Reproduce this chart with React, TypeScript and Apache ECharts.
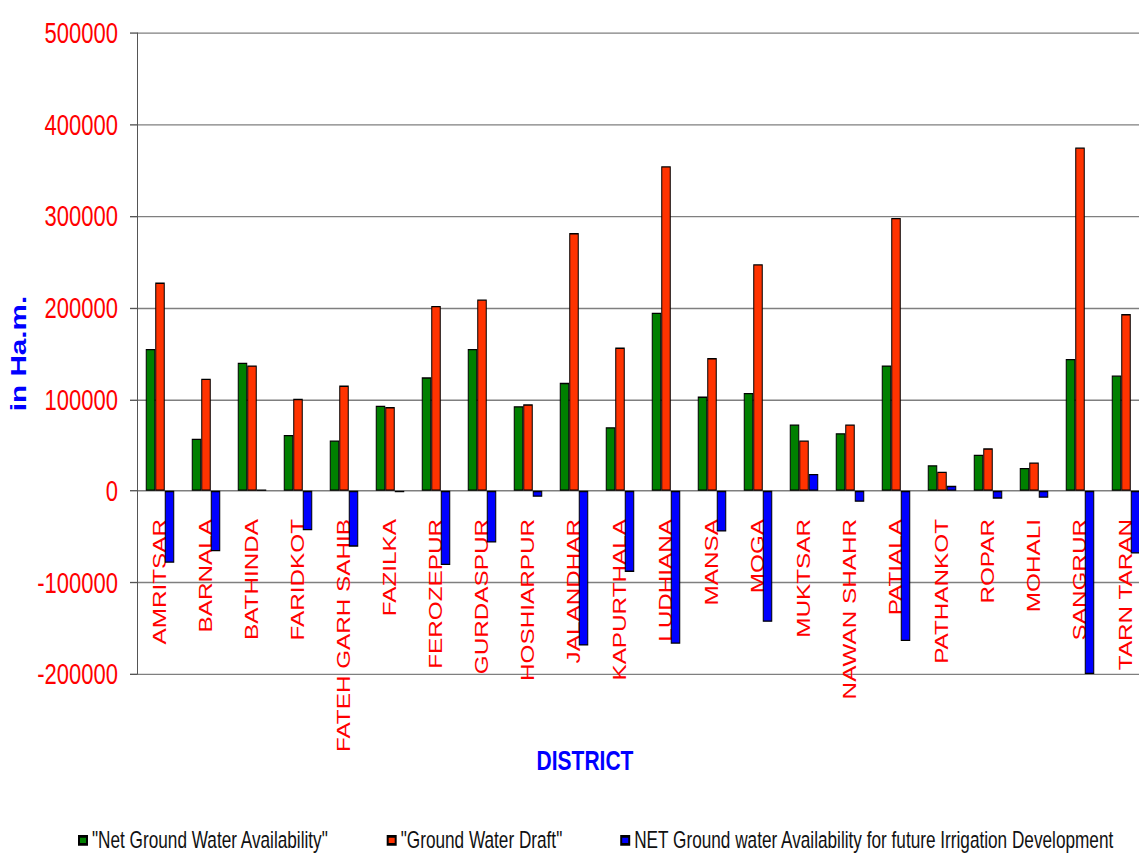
import React, { useEffect, useRef } from "react";
import * as echarts from "echarts";

// District-wise ground water balance (hectare-metres)
const districts = [
  "AMRITSAR", "BARNALA", "BATHINDA", "FARIDKOT", "FATEH GARH SAHIB", "FAZILKA",
  "FEROZEPUR", "GURDASPUR", "HOSHIARPUR", "JALANDHAR", "KAPURTHALA", "LUDHIANA",
  "MANSA", "MOGA", "MUKTSAR", "NAWAN SHAHR", "PATIALA", "PATHANKOT", "ROPAR",
  "MOHALI", "SANGRUR", "TARN TARAN",
];

const netAvailability = [
  155000, 57000, 140000, 61000, 55000, 93000, 124000, 155000, 92500, 118000, 69500,
  194500, 103000, 107000, 72500, 63000, 137000, 28000, 39500, 25000, 144000, 126000,
];

const waterDraft = [
  227500, 122500, 137000, 100500, 115000, 91500, 202000, 209000, 94500, 281500, 156500,
  354500, 145000, 247500, 55000, 72500, 298000, 21000, 46500, 31000, 375000, 193000,
];

const futureAvailability = [
  -78500, -66000, 1500, -43000, -61000, -1500, -81000, -56500, -6500, -169000, -88500,
  -167000, -44500, -143000, 18500, -12000, -164000, 5500, -8500, -7500, -200000, -68500,
];

const seriesNames = [
  '"Net Ground Water Availability"',
  '"Ground Water Draft"',
  "NET Ground water Availability for future Irrigation Development",
];
const seriesColors = ["#008000", "#ff3300", "#0000ff"];

const yTicks = { min: -200000, max: 500000, interval: 100000 };

const FONT = "'Liberation Sans', Arial, Helvetica, sans-serif";
// the chart is laid out on a shorter canvas and stretched vertically
const STRETCH = 1.35;
const WIDTH = 1139;
const HEIGHT = 853 / STRETCH;
const GRID_TOP = 33 / STRETCH;
const GRID_HEIGHT = 641 / STRETCH;
// district names start just below the zero line
const LABEL_TOP = 519 / STRETCH;

export default function App() {
  const ref = useRef<HTMLDivElement>(null);

  useEffect(() => {
    if (!ref.current) return;
    const chart = echarts.init(ref.current, undefined, { renderer: "svg" });
    const values = [netAvailability, waterDraft, futureAvailability];

    chart.setOption({
      animation: false,
      backgroundColor: "#ffffff",
      grid: {
        left: 137,
        top: GRID_TOP,
        width: 1012,
        height: GRID_HEIGHT,
        containLabel: false,
        outerBoundsMode: "none",
      },
      legend: {
        left: 73,
        top: 609,
        icon: "rect",
        itemWidth: 8,
        itemHeight: 6,
        itemGap: 58,
        textStyle: { fontSize: 17.2, color: "#111", fontFamily: FONT },
        data: seriesNames,
      },
      xAxis: {
        type: "category",
        data: districts,
        axisLine: { show: false, onZero: false },
        axisTick: { show: false },
        axisLabel: {
          interval: 0,
          rotate: 90,
          margin: LABEL_TOP - (GRID_TOP + GRID_HEIGHT),
          color: "#ff0000",
          fontSize: 18,
          fontFamily: FONT,
        },
      },
      yAxis: {
        type: "value",
        min: yTicks.min,
        max: yTicks.max,
        interval: yTicks.interval,
        name: "in Ha.m.",
        nameLocation: "middle",
        nameGap: 108,
        nameMoveOverlap: false,
        nameTextStyle: { color: "#0000ff", fontWeight: "bold", fontSize: 22, fontFamily: FONT },
        axisLine: { show: true, lineStyle: { color: "#555555", width: 1 } },
        axisTick: { show: true, length: 7, lineStyle: { color: "#555555" } },
        axisLabel: {
          color: "#ff0000",
          fontSize: 22,
          margin: 19,
          fontFamily: FONT,
          formatter: (v: number) => String(v),
        },
        splitLine: { show: true, lineStyle: { color: "#7f7f7f", width: 1 } },
      },
      graphic: [
        {
          type: "text",
          x: 585,
          y: 563,
          style: {
            text: "DISTRICT",
            fill: "#0000ff",
            fontSize: 21,
            fontWeight: "bold",
            fontFamily: FONT,
            align: "center",
            verticalAlign: "middle",
          },
        },
      ],
      series: seriesNames.map((name, i) => ({
        name,
        type: "bar",
        data: values[i],
        barWidth: 9.5,
        barGap: "0%",
        itemStyle: { color: seriesColors[i], borderColor: "#000000", borderWidth: 1 },
      })),
    });

    return () => chart.dispose();
  }, []);

  return (
    <div
      ref={ref}
      style={{
        position: "absolute",
        left: 0,
        top: 0,
        width: WIDTH,
        height: HEIGHT,
        transform: `scaleY(${STRETCH})`,
        transformOrigin: "0 0",
        background: "#ffffff",
      }}
    />
  );
}
